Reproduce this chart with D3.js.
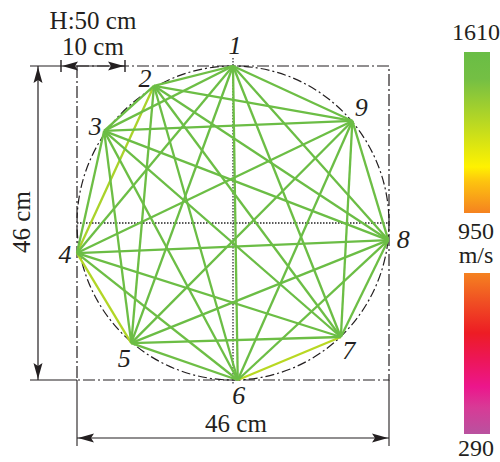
<!DOCTYPE html>
<html>
<head>
<meta charset="utf-8">
<script src="https://cdn.jsdelivr.net/npm/d3@7"></script>
<style>
body { margin: 0; background: #fff; }
text { font-family: "Liberation Serif", serif; fill: #231f20; }
</style>
</head>
<body>
<div id="chart"></div>
<script>
// sensor numbers and their place on the section, in cm from the top left corner
const sensorIds = [1, 2, 3, 4, 5, 6, 7, 8, 9];
const sensorX = [23, 11.35, 4, 0, 8, 23.7, 38.9, 45.9, 40.6];
const sensorY = [0, 2.9, 9.5, 27.4, 40.6, 46, 39.7, 25.5, 8.05];

// measured paths, from / to sensor and speed in m/s
const pathFrom = [1, 1, 1, 1, 1, 1, 1, 1, 2, 2, 2, 2, 2, 2, 2, 3, 3, 3, 3, 3, 3, 4, 4, 4, 4, 4, 5, 5, 5, 5, 6, 6, 6, 7, 7, 8];
const pathTo = [2, 3, 4, 5, 6, 7, 8, 9, 3, 4, 5, 6, 7, 8, 9, 4, 5, 6, 7, 8, 9, 5, 6, 7, 8, 9, 6, 7, 8, 9, 7, 8, 9, 8, 9, 9];
const pathSpeed = [1560, 1570, 1580, 1590, 1570, 1580, 1590, 1570, 1580, 1360, 1570, 1590, 1580, 1590, 1580, 1570, 1570, 1580, 1590, 1590, 1590, 1340, 1570, 1580, 1590, 1580, 1560, 1580, 1590, 1590, 1320, 1580, 1590, 1570, 1580, 1570];

// speed colour legend
const speedStops = [1610, 1500, 1139, 1080, 950, 830, 704, 600, 483, 400, 290];
const speedColors = ["#69bd45", "#74bf44", "#fff200", "#fdc40f", "#f58220", "#f04e23", "#ed1c24", "#ed1656", "#ec168c", "#d83a96", "#b9529f"];
const legendHigh = [1610, 950];
const legendLow = [950, 290];

const width = 500, height = 462;
const svg = d3.select("#chart").append("svg")
    .attr("width", width)
    .attr("height", height);

const x = d3.scaleLinear().domain([0, 46]).range([77, 389]);
const y = d3.scaleLinear().domain([0, 46]).range([66, 380]);
const color = d3.scaleLinear().domain(speedStops).range(speedColors);

const dashDot = "12 3 2 3";

// bounding square and circle
svg.append("rect")
    .attr("x", x(0)).attr("y", y(0))
    .attr("width", x(46) - x(0)).attr("height", y(46) - y(0))
    .attr("fill", "none").attr("stroke", "#231f20").attr("stroke-width", 1.2)
    .attr("stroke-dasharray", dashDot);

svg.append("ellipse")
    .attr("cx", x(23)).attr("cy", y(23))
    .attr("rx", x(23) - x(0)).attr("ry", y(23) - y(0))
    .attr("fill", "none").attr("stroke", "#231f20").attr("stroke-width", 1.2)
    .attr("stroke-dasharray", "9 3 2 3");

// center lines
svg.append("line")
    .attr("x1", x(23)).attr("x2", x(23)).attr("y1", 58).attr("y2", 385)
    .attr("stroke", "#333").attr("stroke-width", 1.3).attr("stroke-dasharray", "1.5 1.5");
svg.append("line")
    .attr("x1", x(0)).attr("x2", x(46)).attr("y1", y(23)).attr("y2", y(23))
    .attr("stroke", "#222").attr("stroke-width", 1.3).attr("stroke-dasharray", "1.5 1.5");

// ray paths
const paths = pathFrom.map((from, i) => ({ from: from - 1, to: pathTo[i] - 1, speed: pathSpeed[i] }));
svg.append("g").selectAll("line")
    .data(paths.slice().sort((a, b) => a.speed - b.speed))
    .enter().append("line")
    .attr("x1", d => x(sensorX[d.from]))
    .attr("y1", d => y(sensorY[d.from]))
    .attr("x2", d => x(sensorX[d.to]))
    .attr("y2", d => y(sensorY[d.to]))
    .attr("stroke", d => color(d.speed))
    .attr("stroke-width", 2.3);

// dimension lines
function dimLine(x1, y1, x2, y2, w) {
    svg.append("line")
        .attr("x1", x1).attr("y1", y1).attr("x2", x2).attr("y2", y2)
        .attr("stroke", "#231f20").attr("stroke-width", w || 1.1);
}
function arrowHead(px, py, angle) {
    svg.append("path")
        .attr("d", "M0,0L-16,-4.5L-13,0L-16,4.5Z")
        .attr("transform", `translate(${px},${py}) rotate(${angle})`)
        .attr("fill", "#231f20");
}

dimLine(30, y(0), 125, y(0));
dimLine(61, 60, 61, 72, 1.4);
dimLine(125, 60, 125, 72, 1.4);
arrowHead(62, y(0), 180);
arrowHead(124, y(0), 0);

dimLine(38, y(0), 38, y(46), 1.2);
arrowHead(38, y(0) + 1, -90);
arrowHead(38, y(46) - 1, 90);
dimLine(30, y(46), x(0), y(46));

dimLine(x(0), y(46), x(0), 446);
dimLine(x(46), y(46), x(46), 446);
dimLine(x(0), 438, x(46), 438);
arrowHead(x(0) + 1, 438, 180);
arrowHead(x(46) - 1, 438, 0);

function label(txt, px, py, size) {
    return svg.append("text")
        .attr("x", px).attr("y", py)
        .attr("text-anchor", "middle")
        .attr("font-size", size)
        .text(txt);
}

label("H:50 cm", 93, 29, 25);
label("10 cm", 93, 55, 25);
label("46 cm", 236, 432, 25);
label("46 cm", 0, 0, 25).attr("transform", "translate(30,222) rotate(-90)");

// sensor labels
const labelDx = [2, -9, -9, -12, -7, 1, 8, 15, 9];
const labelDy = [-12, 1, 4, 10, 24, 24, 22, 8, -5];
sensorIds.forEach((id, i) => {
    label(id, x(sensorX[i]) + labelDx[i], y(sensorY[i]) + labelDy[i], 26)
        .attr("font-style", "italic");
});

// colour legend
const defs = svg.append("defs");
function legendBar(name, range, top) {
    const barScale = d3.scaleLinear().domain(range).range([top, top + 161]);
    const grad = defs.append("linearGradient")
        .attr("id", name)
        .attr("x1", 0).attr("x2", 0).attr("y1", 0).attr("y2", 1);
    speedStops.filter(s => s <= range[0] && s >= range[1]).forEach(s => {
        grad.append("stop")
            .attr("offset", (barScale(s) - top) / 161)
            .attr("stop-color", color(s));
    });
    svg.append("rect")
        .attr("x", 464).attr("y", barScale(range[0]))
        .attr("width", 26).attr("height", barScale(range[1]) - barScale(range[0]))
        .attr("fill", `url(#${name})`);
}
legendBar("speedHigh", legendHigh, 52);
legendBar("speedLow", legendLow, 273);

label("1610", 476, 40, 24);
label("950", 476, 239, 24);
label("m/s", 476, 263, 24);
label("290", 476, 456, 24);
</script>
</body>
</html>
